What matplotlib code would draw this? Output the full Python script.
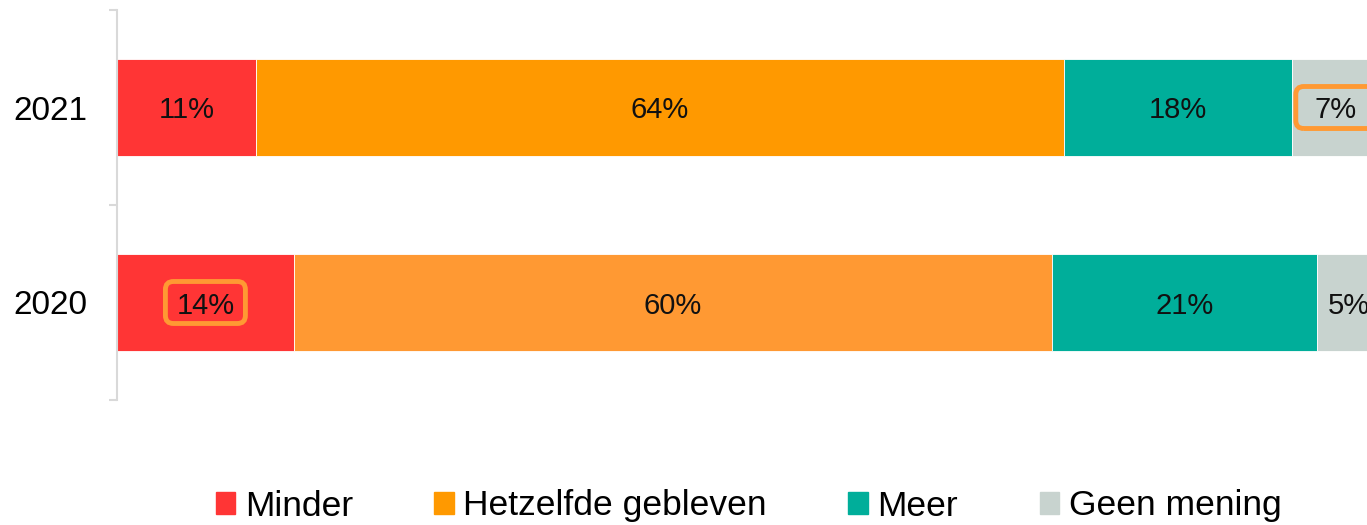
import matplotlib
matplotlib.use("Agg")
import matplotlib.pyplot as plt
from matplotlib.patches import FancyBboxPatch
from matplotlib.transforms import ScaledTranslation

years = ["2020", "2021"]
categories = ["Minder", "Hetzelfde gebleven", "Meer", "Geen mening"]
minder = [14, 11]
hetzelfde = [60, 64]
meer = [21, 18]
geen = [5, 7]
series = [minder, hetzelfde, meer, geen]
highlights = [(0, 0), (1, 3)]  # (year index, category index)

colors = ["#FF3535", "#FF9900", "#00AE9A", "#C8D3CF"]
hetzelfde_colors = ["#FF9933", "#FF9900"]
box_color = "#FF9933"

base_font = "Liberation Sans"

fig = plt.figure(figsize=(13.67, 5.25), dpi=100)
ax = fig.add_axes([117 / 1367, 1 - 400 / 525, 1263 / 1367, 390 / 525])

ypos = list(range(len(years)))
left = [0] * len(years)
for ci, vals in enumerate(series):
    if ci == 1:
        cols = hetzelfde_colors
    else:
        cols = [colors[ci]] * len(years)
    ax.barh(ypos, vals, left=left, height=0.5, color=cols,
            edgecolor="#FFFFFF", linewidth=0.6, label=categories[ci])
    for yi, (v, l) in enumerate(zip(vals, left)):
        cx = l + v / 2
        ax.text(cx, yi, f"{v}%", ha="center", va="center_baseline",
                fontsize=21, family=base_font, color="#111111")
        if (yi, ci) in highlights:
            w, h = 0.80, 0.42
            tr = fig.dpi_scale_trans + ScaledTranslation(cx, yi, ax.transData)
            box = FancyBboxPatch((-w / 2, -h / 2), w, h,
                                 boxstyle="round,pad=0,rounding_size=0.08",
                                 fc="none", ec=box_color, lw=3.5,
                                 transform=tr, clip_on=False)
            ax.add_patch(box)
    left = [a + b for a, b in zip(left, vals)]

ax.set_xlim(0, 100)
ax.set_ylim(-0.5, 1.5)
ax.set_xticks([])
for s in ["top", "right", "bottom"]:
    ax.spines[s].set_visible(False)
ax.spines["left"].set_color("#D9D9D9")
ax.spines["left"].set_linewidth(1.5)

ax.set_yticks([-0.5, 0.5, 1.5])
ax.set_yticklabels([])
ax.tick_params(axis="y", which="major", length=6, width=1.5, color="#D9D9D9")
ax.set_yticks(ypos, minor=True)
ax.set_yticklabels(years, minor=True, fontsize=24, family=base_font)
ax.tick_params(axis="y", which="minor", length=0, pad=21)

leg_handles = [plt.Rectangle((0, 0), 1, 1, color=c) for c in colors]
fig.legend(leg_handles, categories, loc="center", bbox_to_anchor=(0.5476, 1 - 506 / 525),
           ncol=4, frameon=False, prop={"family": base_font, "size": 25.5},
           handlelength=0.54, handleheight=0.54, handletextpad=0.28,
           columnspacing=2.3, borderpad=0)

fig.savefig("out.png", dpi=100)
